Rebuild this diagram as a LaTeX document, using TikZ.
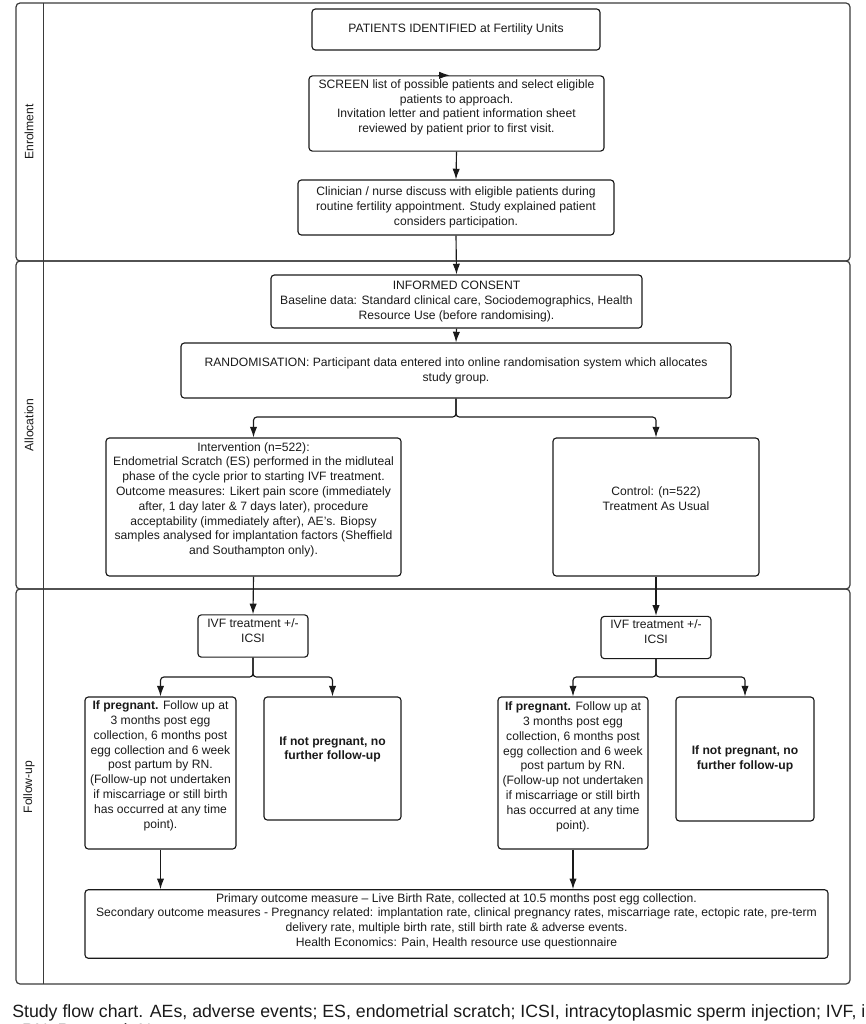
\documentclass[tikz,border=0pt]{standalone}
\usepackage{fontspec}
\setmainfont{Liberation Sans}
\usetikzlibrary{arrows.meta,calc}
\newcommand\bxfont{\fontsize{9.1pt}{11.1pt}\selectfont}
\newcommand\capfont{\fontsize{13.3pt}{15pt}\selectfont}
\newcommand\upby[2]{\raisebox{0pt}[\height][\dimexpr\depth+#1\relax]{\begin{tabular}{@{}c@{}}#2\end{tabular}}}
\definecolor{ink}{HTML}{1A1A1A}
\definecolor{frame}{HTML}{3A3A3A}
\begin{document}
\begin{tikzpicture}[x=0.75pt,y=-0.75pt,
  box/.style={draw=ink, line width=0.85pt, rounded corners=2.5pt, align=center, font=\bxfont, inner sep=1.5pt, text=ink},
  arr/.style={-{Latex[length=8pt,width=5.5pt]}, draw=ink, line width=0.85pt, rounded corners=2.5pt},
  lane/.style={draw=frame, line width=0.9pt, rounded corners=3pt},
  divider/.style={draw=frame, line width=0.6pt},
  lanelabel/.style={rotate=90, font=\bxfont, text=ink, inner sep=0pt}]
\useasboundingbox (0,0) rectangle (865,1024);
% swimlanes
\draw[lane] (16,3) rectangle (850,261);
\draw[lane] (16,261) rectangle (850,589);
\draw[lane] (16,589) rectangle (850,984);
\draw[divider] (43,3) -- (43,984);
\node[lanelabel] (lEnr) at (29,132) {Enrolment};
\node[lanelabel] (lAll) at (29,425) {Allocation};
\node[lanelabel] (lFol) at (29,787) {Follow-up};
% enrolment
\node[box, minimum width=216pt, minimum height=30.75pt] (pat) at (456,29.5) {PATIENTS IDENTIFIED at Fertility Units};
\node[box, minimum width=221.25pt, minimum height=56.25pt] (scr) at (456.5,113.5)
  {\upby{9pt}{SCREEN list of possible patients and select eligible\\patients to approach.\\Invitation letter and patient information sheet\\reviewed by patient prior to first visit.}};
\node[box, minimum width=237pt, minimum height=41.25pt] (cli) at (456,207.5)
  {Clinician / nurse discuss with eligible patients during\\routine fertility appointment. Study explained patient\\considers participation.};
% allocation
\node[box, minimum width=278.25pt, minimum height=39.75pt] (con) at (456.5,301.5)
  {INFORMED CONSENT\\Baseline data: Standard clinical care, Sociodemographics, Health\\Resource Use (before randomising).};
\node[box, minimum width=412.5pt, minimum height=41.25pt] (ran) at (456,370.5)
  {RANDOMISATION: Participant data entered into online randomisation system which allocates\\study group.};
\node[box, minimum width=221.25pt, minimum height=103.5pt] (int) at (253.5,507)
  {\upby{10.5pt}{Intervention (n=522):\\Endometrial Scratch (ES) performed in the midluteal\\phase of the cycle prior to starting IVF treatment.\\Outcome measures: Likert pain score (immediately\\after, 1 day later \& 7 days later), procedure\\acceptability (immediately after), AE's. Biopsy\\samples analysed for implantation factors (Sheffield\\and Southampton only).}};
\node[box, minimum width=154.5pt, minimum height=103.5pt] (ctl) at (656,507)
  {\upby{10.5pt}{Control: (n=522)\\Treatment As Usual}};
% follow-up
\node[box, minimum width=82.5pt, minimum height=31.5pt] (ivfL) at (253,636)
  {\upby{6.5pt}{IVF treatment +/-\\ICSI}};
\node[box, minimum width=82.5pt, minimum height=30.75pt] (ivfR) at (656,637.5)
  {\upby{6.5pt}{IVF treatment +/-\\ICSI}};
\node[box, minimum width=113.25pt, minimum height=114pt] (pregL) at (160.5,773)
  {\upby{10.5pt}{\textbf{If pregnant.} Follow up at\\3 months post egg\\collection, 6 months post\\egg collection and 6 week\\post partum by RN.\\(Follow-up not undertaken\\if miscarriage or still birth\\has occurred at any time\\point).}};
\node[box, minimum width=102.75pt, minimum height=92.25pt] (npL) at (332.5,758.5)
  {\upby{13.5pt}{\textbf{If not pregnant, no}\\\textbf{further follow-up}}};
\node[box, minimum width=112.5pt, minimum height=114pt] (pregR) at (573,773)
  {\upby{9pt}{\textbf{If pregnant.} Follow up at\\3 months post egg\\collection, 6 months post\\egg collection and 6 week\\post partum by RN.\\(Follow-up not undertaken\\if miscarriage or still birth\\has occurred at any time\\point).}};
\node[box, minimum width=103.5pt, minimum height=93pt] (npR) at (745,759)
  {\textbf{If not pregnant, no}\\\textbf{further follow-up}};
\node[box, minimum width=557.25pt, minimum height=51pt] (out) at (456.5,924)
  {\upby{4pt}{Primary outcome measure -- Live Birth Rate, collected at 10.5 months post egg collection.\\Secondary outcome measures - Pregnancy related: implantation rate, clinical pregnancy rates, miscarriage rate, ectopic rate, pre-term\\delivery rate, multiple birth rate, still birth rate \& adverse events.\\Health Economics: Pain, Health resource use questionnaire}};
% connectors
\draw[arr] ([xshift=-14pt]scr.north) -- ([xshift=-5pt]scr.north);
\draw[arr] (scr.south) -- (cli.north);
\draw[arr] (cli.south) -- (con.north);
\draw[arr] (con.south) -- (ran.north);
\draw[arr] (ran.south) -- (456,417) -| (int.north);
\draw[arr] (ran.south) -- (456,417) -| (ctl.north);
\draw[arr] (int.south) -- (ivfL.north);
\draw[arr] (ctl.south) -- (ivfR.north);
\draw[arr] (ivfL.south) -- (253,677) -| (pregL.north);
\draw[arr] (ivfL.south) -- (253,677) -| (npL.north);
\draw[arr] (ivfR.south) -- (656,677) -| (pregR.north);
\draw[arr] (ivfR.south) -- (656,677) -| (npR.north);
\draw[arr] (pregL.south) -- (pregL.south |- out.north);
\draw[arr] (pregR.south) -- (pregR.south |- out.north);
% caption (cut off at the page edges, as in the reference)
\node[anchor=base west, font=\capfont, text=ink, inner sep=0pt] (cap1) at (12,1017)
  {Study flow chart. AEs, adverse events; ES, endometrial scratch; ICSI, intracytoplasmic sperm injection; IVF, in vitro fertilisation;};
\node[anchor=base west, font=\capfont, text=ink, inner sep=0pt] (cap2) at (12,1036)
  {; RN, Research Nurse.};
\end{tikzpicture}
\end{document}
